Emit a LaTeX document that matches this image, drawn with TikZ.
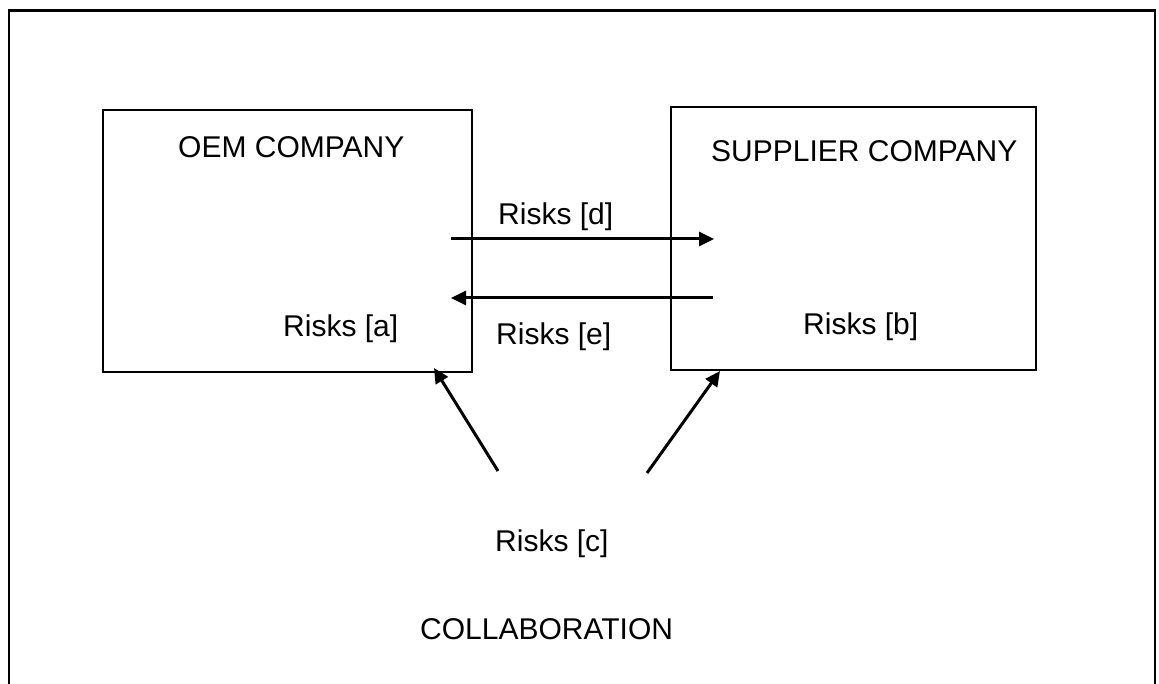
\documentclass[tikz,border=0pt]{standalone}
\usepackage{fontspec}
\setmainfont{Liberation Sans}
\usetikzlibrary{arrows.meta}
\begin{document}
\begin{tikzpicture}[x=1pt,y=-1pt,
  company/.style={draw=black,line width=1.5pt},
  lbl/.style={inner sep=0pt,anchor=base west,font=\fontsize{30}{36}\selectfont},
  flow/.style={line width=3pt,-{Triangle[length=15pt,width=14pt]}}]
\useasboundingbox (0,0) rectangle (1159,684);
% outer frame (open at bottom)
\draw[line width=2.4pt] (9,684) -- (9,10.5);
\draw[line width=2.4pt] (1155,10.5) -- (1155,684);
\draw[line width=3.4pt] (7.8,10.5) -- (1156.2,10.5);
% company boxes
\draw[company] (103,110) rectangle (472,372);
\draw[company] (671,107) rectangle (1036,370);
% labels
\node[lbl] (oem) at (178,158) {OEM COMPANY};
\node[lbl] (sup) at (711,162) {SUPPLIER COMPANY};
\node[lbl] (ra) at (283,337) {Risks [a]};
\node[lbl] (rb) at (803,335) {Risks [b]};
\node[lbl] (rd) at (498,225) {Risks [d]};
\node[lbl] (re) at (496,345) {Risks [e]};
\node[lbl] (rc) at (495,551) {Risks [c]};
\node[lbl] (col) at (420,639) {COLLABORATION};
% arrow endpoints
\coordinate (d1) at (451,239);
\coordinate (d2) at (714,239);
\coordinate (e1) at (713,298);
\coordinate (e2) at (451,298);
\coordinate (c1) at (498,471);
\coordinate (a1) at (434,368);
\coordinate (c2) at (647,473);
\coordinate (b1) at (720,371);
\draw[flow] (d1) -- (d2);
\draw[flow] (e1) -- (e2);
\draw[flow] (c1) -- (a1);
\draw[flow] (c2) -- (b1);
\end{tikzpicture}
\end{document}
